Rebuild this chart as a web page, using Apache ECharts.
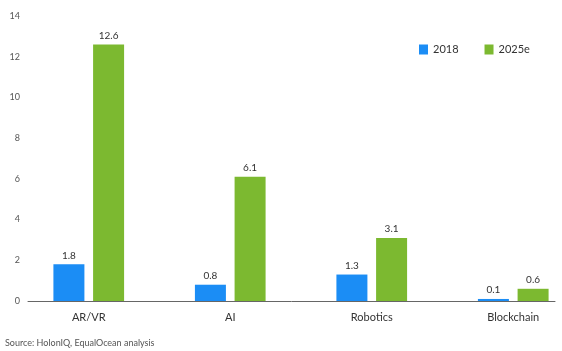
<!DOCTYPE html>
<html>
<head>
<meta charset="utf-8">
<script src="https://cdn.jsdelivr.net/npm/echarts@6/dist/echarts.min.js"></script>
<style>
  html, body { margin: 0; padding: 0; background: #fff; }
  #chart { width: 562px; height: 351px; }
</style>
</head>
<body>
<div id="chart"></div>
<script>
// Spending by technology (US$ bn)
const categories = ['AR/VR', 'AI', 'Robotics', 'Blockchain'];
const values2018 = [1.8, 0.8, 1.3, 0.1];
const values2025 = [12.6, 6.1, 3.1, 0.6];
const yTicks = [0, 2, 4, 6, 8, 10, 12, 14];
const sourceNote = 'Source: HolonIQ, EqualOcean analysis';

const FONT = 'Lato, "Open Sans", sans-serif';
const yMin = yTicks[0];
const yMax = yTicks[yTicks.length - 1];
const yStep = yTicks[1] - yTicks[0];

const chart = echarts.init(document.getElementById('chart'), null, { renderer: 'canvas' });

const labelStyle = {
  show: true,
  position: 'top',
  distance: 4,
  color: '#333',
  fontSize: 10,
  fontFamily: FONT
};

chart.setOption({
  animation: false,
  backgroundColor: '#fff',
  legend: {
    left: 414,
    top: 39,
    itemWidth: 9,
    itemHeight: 10,
    itemGap: 26,
    icon: 'rect',
    textStyle: { color: '#333', fontSize: 11, fontFamily: FONT },
    data: ['2018', '2025e']
  },
  grid: [
    // bars and category labels; the last band runs slightly past the canvas edge
    { left: 18, right: -22, top: 16, bottom: 50, containLabel: false, outerBoundsMode: 'none' },
    // baseline and value axis
    { left: 28, right: 7, top: 16, bottom: 50, containLabel: false, outerBoundsMode: 'none' }
  ],
  xAxis: [
    {
      type: 'category',
      gridIndex: 0,
      data: categories,
      axisLine: { show: false },
      axisTick: { show: false },
      axisLabel: { color: '#333', fontSize: 11, fontFamily: FONT, margin: 11 }
    },
    {
      type: 'category',
      gridIndex: 1,
      data: categories,
      axisLine: { show: true, lineStyle: { color: '#666', width: 1 } },
      axisTick: { show: false },
      axisLabel: { show: false }
    }
  ],
  yAxis: [
    {
      type: 'value',
      gridIndex: 0,
      min: yMin, max: yMax, interval: yStep,
      show: false
    },
    {
      type: 'value',
      gridIndex: 1,
      min: yMin, max: yMax, interval: yStep,
      axisLine: { show: false },
      axisTick: { show: false },
      splitLine: { show: false },
      axisLabel: { color: '#555', fontSize: 9, fontFamily: FONT, margin: 8 }
    }
  ],
  series: [
    {
      name: '2018',
      type: 'bar',
      xAxisIndex: 0, yAxisIndex: 0,
      data: values2018,
      barWidth: 31,
      barGap: '28%',
      itemStyle: { color: '#1b8df5' },
      label: labelStyle
    },
    {
      name: '2025e',
      type: 'bar',
      xAxisIndex: 0, yAxisIndex: 0,
      data: values2025,
      barWidth: 31,
      barGap: '28%',
      itemStyle: { color: '#7cb930' },
      label: labelStyle
    }
  ],
  graphic: [
    {
      type: 'text',
      left: 5,
      top: 339,
      style: { text: sourceNote, fill: '#555', fontSize: 9, fontFamily: FONT }
    }
  ]
});
</script>
</body>
</html>
